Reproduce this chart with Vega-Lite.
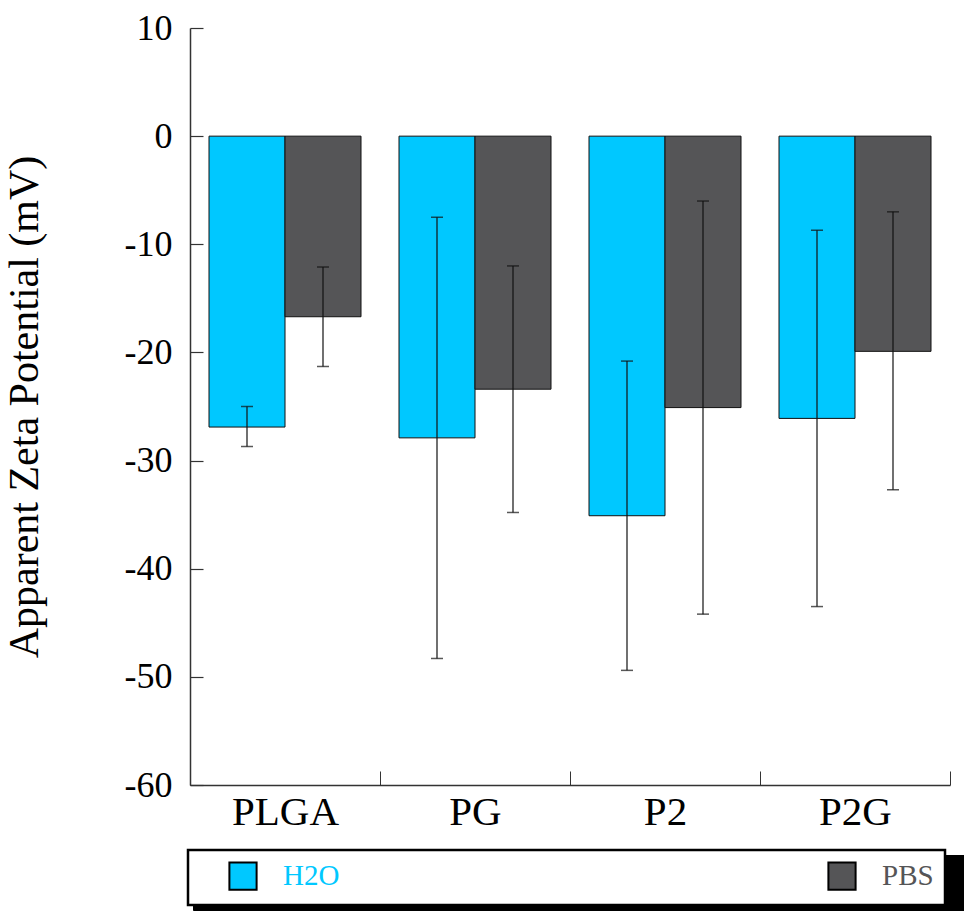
{
  "$schema": "https://vega.github.io/schema/vega-lite/v6.json",
  "autosize": "none",
  "padding": {"left": 190, "top": 28, "right": 14, "bottom": 135},
  "width": 760,
  "height": 757,
  "background": "white",
  "config": {
    "view": {"stroke": null},
    "font": "Liberation Serif"
  },
  "data": {
    "values": [
      {"sample": "PLGA", "medium": "H2O", "zeta": -26.9, "lo": -25.0, "hi": -28.7},
      {"sample": "PLGA", "medium": "PBS", "zeta": -16.7, "lo": -12.1, "hi": -21.3},
      {"sample": "PG", "medium": "H2O", "zeta": -27.9, "lo": -7.5, "hi": -48.3},
      {"sample": "PG", "medium": "PBS", "zeta": -23.4, "lo": -12.0, "hi": -34.8},
      {"sample": "P2", "medium": "H2O", "zeta": -35.1, "lo": -20.8, "hi": -49.4},
      {"sample": "P2", "medium": "PBS", "zeta": -25.1, "lo": -6.0, "hi": -44.2},
      {"sample": "P2G", "medium": "H2O", "zeta": -26.1, "lo": -8.7, "hi": -43.5},
      {"sample": "P2G", "medium": "PBS", "zeta": -19.9, "lo": -7.0, "hi": -32.7}
    ]
  },
  "encoding": {
    "x": {
      "field": "sample", "type": "nominal", "sort": ["PLGA", "PG", "P2", "P2G"],
      "scale": {"paddingInner": 0, "paddingOuter": 0},
      "axis": {
        "title": null, "labelAngle": 0, "labelFontSize": 41, "labelColor": "black",
        "labelFont": "Liberation Serif", "labelPadding": 21,
        "tickBand": "extent", "tickSize": -14, "tickColor": "#333", "tickWidth": 1,
        "domainColor": "#333", "domainWidth": 1.5
      }
    },
    "xOffset": {
      "field": "medium", "type": "nominal", "sort": ["H2O", "PBS"],
      "scale": {"paddingInner": 0, "paddingOuter": 0.25}
    }
  },
  "layer": [
    {
      "mark": {"type": "bar", "stroke": "#111", "strokeWidth": 1},
      "encoding": {
        "y": {
          "field": "zeta", "type": "quantitative",
          "scale": {"domain": [-60, 10], "nice": false, "zero": false},
          "axis": {
            "title": "Apparent Zeta Potential (mV)", "titleFontSize": 42, "titleFont": "Liberation Serif",
            "titleFontWeight": "normal", "titleColor": "black", "titlePadding": 78, "titleLimit": 1000,
            "values": [-60, -50, -40, -30, -20, -10, 0, 10],
            "labelExpr": "toString(datum.value)",
            "labelFontSize": 36, "labelColor": "black", "labelFont": "Liberation Serif",
            "labelPadding": 31, "tickSize": -13, "tickColor": "#333", "tickWidth": 1.2,
            "domainColor": "#333", "domainWidth": 1.5, "grid": false
          }
        },
        "y2": {"datum": 0},
        "color": {
          "field": "medium", "type": "nominal",
          "scale": {"domain": ["H2O", "PBS"], "range": ["#00c8ff", "#555557"]},
          "legend": {
            "title": null, "orient": "none", "legendX": -2, "legendY": 822, "zindex": 2,
            "direction": "horizontal", "columns": 2, "columnPadding": 458,
            "symbolType": "square", "symbolSize": 740, "symbolStrokeColor": "black",
            "symbolStrokeWidth": 2, "symbolOpacity": 1, "symbolOffset": 29,
            "labelFontSize": 29, "labelFont": "Liberation Serif", "labelOffset": 25,
            "labelExpr": "datum.label === 'PBS' ? 'PBS  ' : datum.label",
            "padding": 11, "strokeColor": "black", "fillColor": "white",
            "encode": {
              "labels": {"update": {"fill": {"signal": "datum.label === 'H2O' ? '#00c8ff' : '#555557'"}}},
              "legend": {"update": {"strokeWidth": {"value": 2.5}}}
            }
          }
        }
      }
    },
    {
      "mark": {"type": "rule", "color": "black", "strokeWidth": 1.5},
      "encoding": {
        "y": {"datum": 0},
        "opacity": {
          "field": "sample", "type": "ordinal", "sort": ["PLGA", "PG", "P2", "P2G"],
          "scale": {"range": [1, 1, 1, 1]},
          "legend": {
            "title": null, "orient": "none", "legendX": 3, "legendY": 827, "zindex": 1,
            "direction": "horizontal", "columns": 4, "columnPadding": 214,
            "symbolType": "square", "symbolSize": 740, "symbolStrokeColor": "black",
            "symbolFillColor": "black", "symbolStrokeWidth": 2, "symbolOffset": 0,
            "labelFontSize": 29, "labelOffset": 0, "labelExpr": "''", "labelColor": "black",
            "padding": 11, "strokeColor": "black", "fillColor": "black"
          }
        }
      }
    },
    {
      "mark": {"type": "rule", "color": "#111", "strokeWidth": 1.2},
      "encoding": {
        "y": {"field": "lo", "type": "quantitative"},
        "y2": {"field": "hi"}
      }
    },
    {
      "mark": {"type": "tick", "color": "#111", "size": 12, "thickness": 1.5, "orient": "horizontal"},
      "encoding": {"y": {"field": "lo", "type": "quantitative"}}
    },
    {
      "mark": {"type": "tick", "color": "#111", "size": 12, "thickness": 1.5, "orient": "horizontal"},
      "encoding": {"y": {"field": "hi", "type": "quantitative"}}
    }
  ]
}
